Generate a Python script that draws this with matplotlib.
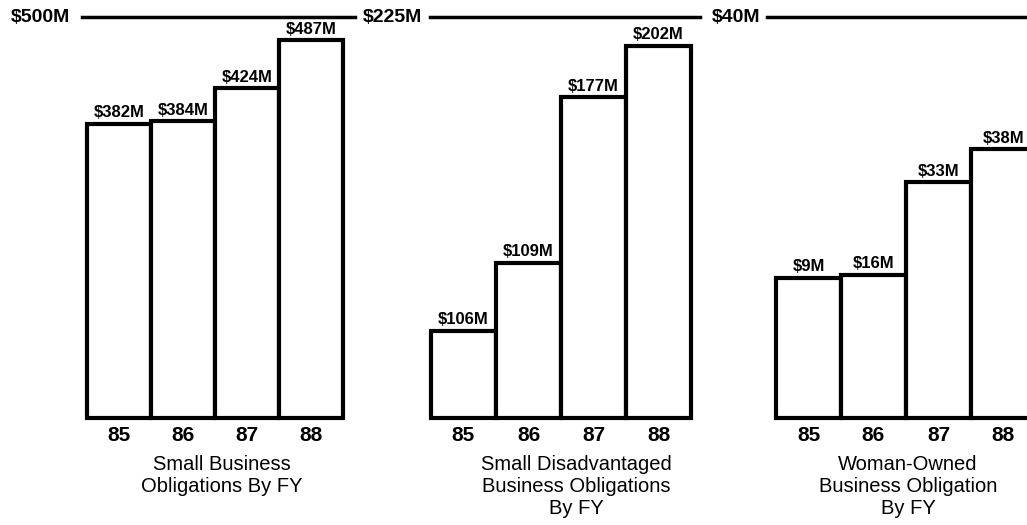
import matplotlib.pyplot as plt

plt.rcParams['font.family'] = ['Liberation Sans', 'DejaVu Sans']

# fiscal years
years = ["85", "86", "87", "88"]

# small business
sb_labels = ["$382M", "$384M", "$424M", "$487M"]
sb_heights = [367, 370, 411, 471]
sb_top = 500

# small disadvantaged business
sdb_labels = ["$106M", "$109M", "$177M", "$202M"]
sdb_heights = [49, 87, 180, 209]
sdb_top = 225

# woman-owned business
wob_labels = ["$9M", "$16M", "$33M", "$38M"]
wob_heights = [14.0, 14.3, 23.5, 26.8]
wob_top = 40

titles = [
    "Small Business\nObligations By FY",
    "Small Disadvantaged\nBusiness Obligations\nBy FY",
    "Woman-Owned\nBusiness Obligation\nBy FY",
]
top_labels = ["$500M", "$225M", "$40M"]

W, H = 1027, 525
BASE_Y = 418   # pixel row of baseline
TOP_Y = 17     # pixel row of top rule

# per panel: (rule left, rule right, bar left, bar width, top-label right, title x) in px
panels = [
    (82, 355, 87, 64, 70, 222),
    (430, 700, 431, 65, 422, 576),
    (767, 1027, 776, 65, 760, 908),
]

fig = plt.figure(figsize=(W / 100, H / 100), dpi=100)
fig.patch.set_facecolor("white")

data = [
    (sb_heights, sb_labels, sb_top),
    (sdb_heights, sdb_labels, sdb_top),
    (wob_heights, wob_labels, wob_top),
]

for (heights, labels, top), (l_px, r_px, b_px, bw, lab_px, tx_px), title, tlab in zip(
        data, panels, titles, top_labels):
    ax = fig.add_axes([l_px / W, 1 - BASE_Y / H, (r_px - l_px) / W, (BASE_Y - TOP_Y) / H])
    ax.set_xlim((l_px - b_px) / bw - 0.5, (r_px - b_px) / bw - 0.5)
    ax.set_ylim(0, top)
    for s in ax.spines.values():
        s.set_visible(False)
    ax.set_yticks([])

    x = list(range(len(heights)))
    ax.bar(x, heights, width=1.0, facecolor="white", edgecolor="black",
           linewidth=3, clip_on=False)
    for xi, h, lab in zip(x, heights, labels):
        ax.annotate(lab, (xi, h), xytext=(0, 2.5), textcoords="offset points",
                    ha="center", va="bottom", fontsize=12, fontweight="bold",
                    annotation_clip=False)

    ax.axhline(top, color="black", linewidth=2.5, clip_on=False)
    ax.set_xticks(x)
    ax.set_xticklabels(years, fontsize=15, fontweight="bold")
    ax.tick_params(axis="x", length=0, pad=6)

    fig.text(lab_px / W, 1 - TOP_Y / H, tlab, ha="right", va="center",
             fontsize=14, fontweight="bold")
    fig.text(tx_px / W, 1 - 455 / H, title, ha="center", va="top",
             fontsize=14.5, linespacing=1.2)

fig.savefig("out.png", dpi=100, facecolor="white")
